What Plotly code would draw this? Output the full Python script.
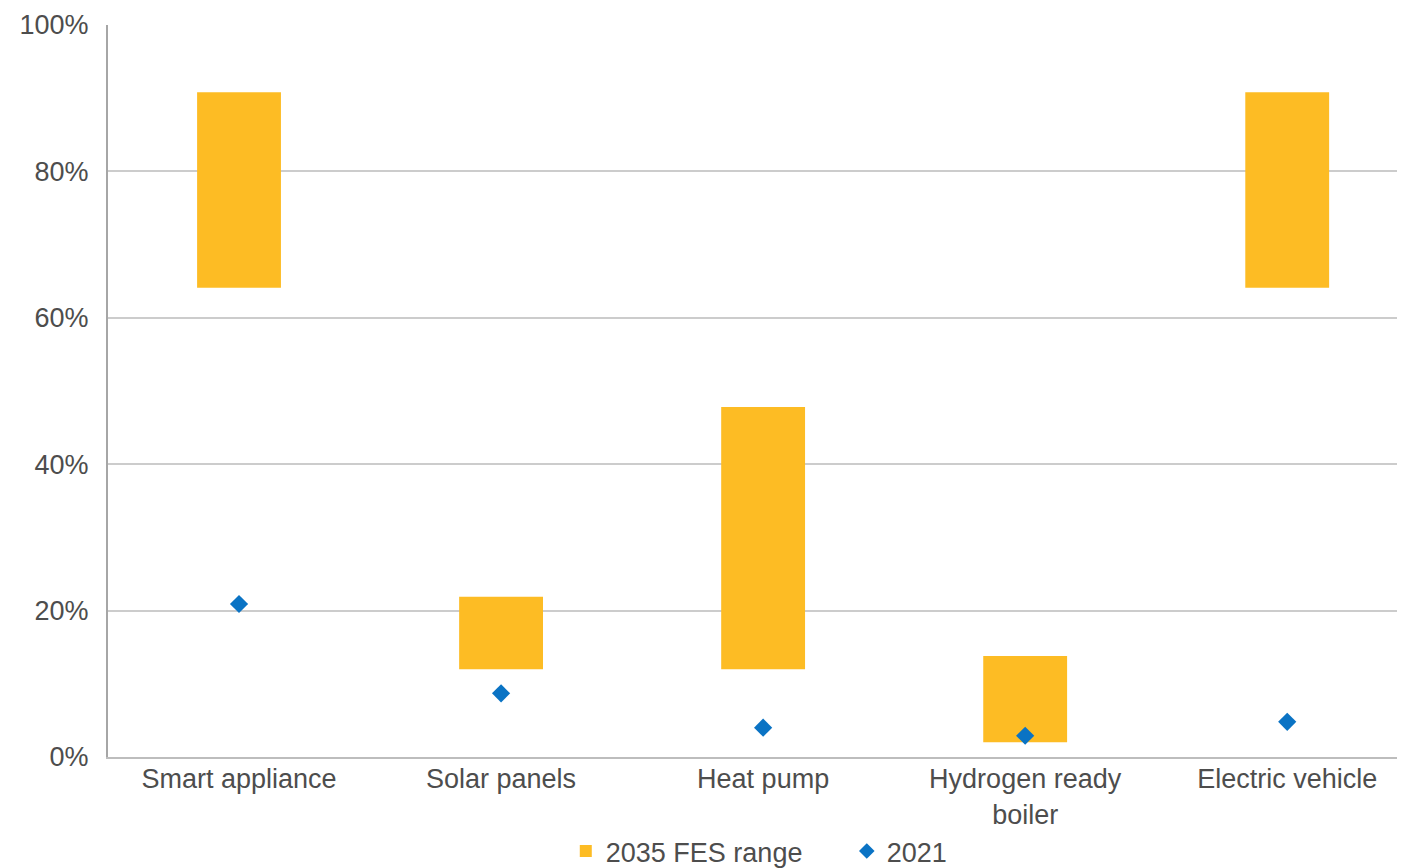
import plotly.graph_objects as go

categories = ["Smart appliance", "Solar panels", "Heat pump", "Hydrogen ready<br>boiler", "Electric vehicle"]
range_low = [64.1, 12.0, 12.0, 2.0, 64.1]
range_high = [90.8, 21.9, 47.8, 13.8, 90.8]
values_2021 = [20.9, 8.7, 4.0, 2.9, 4.8]
y_ticks = [0, 20, 40, 60, 80, 100]
y_tick_labels = ["0%", "20%", "40%", "60%", "80%", "100%"]

font_family = "Liberation Sans, Arial, Helvetica, sans-serif"
text_color = "#4d4d4d"
fs = 27

fig = go.Figure()
fig.add_trace(go.Bar(
    x=categories,
    y=[h - l for h, l in zip(range_high, range_low)],
    base=range_low,
    name="2035 FES range",
    marker=dict(color="#FDBC24", line=dict(width=0)),
    width=0.32,
))
fig.add_trace(go.Scatter(
    x=categories,
    y=values_2021,
    name="2021",
    mode="markers",
    marker=dict(symbol="diamond", size=14, color="#0A73C4"),
))

# page body has an 8px default margin; compensate so the plot sits where the reference's does
fig.update_layout(
    width=1405, height=868,
    margin=dict(l=100, r=0, t=17, b=119, autoexpand=False),
    paper_bgcolor="white", plot_bgcolor="white",
    font=dict(family=font_family, size=fs, color=text_color),
    showlegend=True,
    legend=dict(orientation="h", xref="container", yref="container",
                x=0.597, xanchor="center", y=0.0565, yanchor="top",
                font=dict(size=fs, color=text_color), entrywidth=236, entrywidthmode="pixels",
                itemsizing="constant"),
)
fig.update_xaxes(
    range=[-0.5, 4.48], automargin=False,
    showline=True, linecolor="#bdbdbd", linewidth=2,
    ticks="", ticklabelstandoff=-3, tickfont=dict(size=fs, color=text_color),
    showgrid=False,
)
fig.update_yaxes(
    range=[0, 100], tickmode="array", tickvals=y_ticks, ticktext=y_tick_labels,
    automargin=False,
    showline=True, linecolor="#a6a6a6", linewidth=2,
    showgrid=True, gridcolor="#cccccc", gridwidth=1.5,
    ticks="", ticklen=0, ticklabelstandoff=12, tickfont=dict(size=fs, color=text_color),
    zeroline=False,
)

fig.write_html("out.html")
